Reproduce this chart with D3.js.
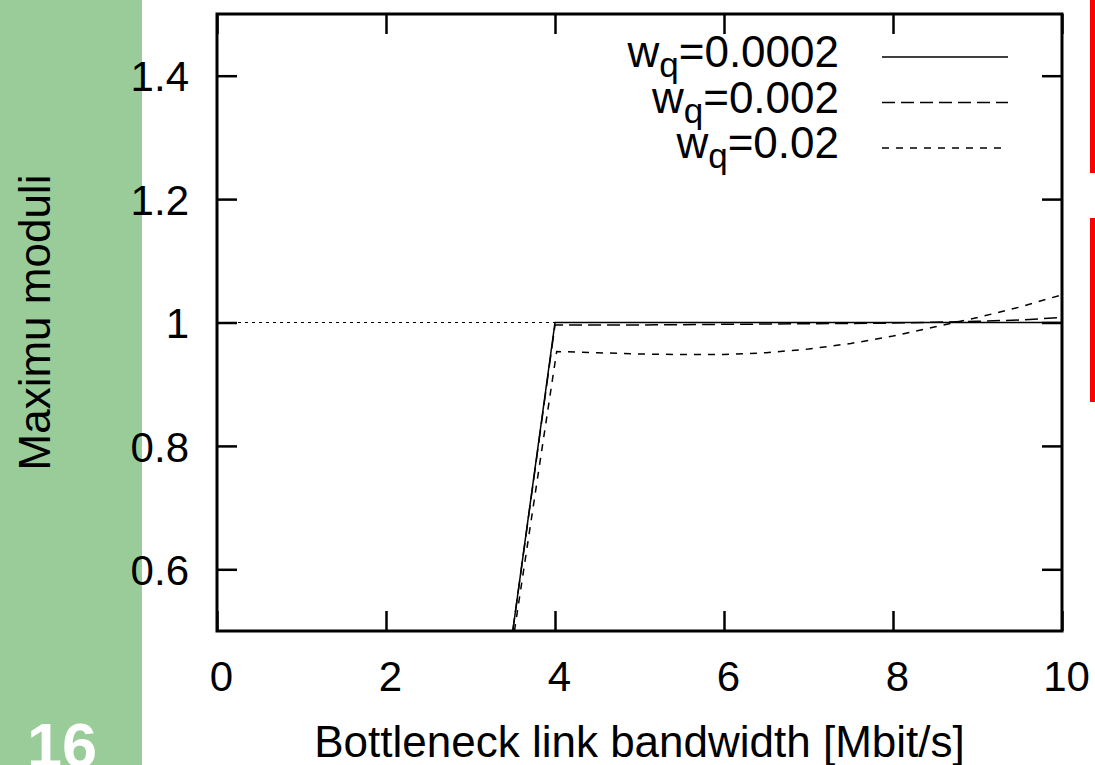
<!DOCTYPE html>
<html>
<head>
<meta charset="utf-8">
<script src="https://cdn.jsdelivr.net/npm/d3@7"></script>
<style>
  body { margin: 0; background: #fff; }
  svg { display: block; font-family: "Liberation Sans", Arial, sans-serif; }
</style>
</head>
<body>
<script>
const dimensions = {
    width: 1095,
    height: 765
}
const margin = { left: 217, top: 14, right: 1095 - 1062, bottom: 765 - 631 }

// values
const xTicks = [0, 2, 4, 6, 8, 10]
const yTicks = [0.6, 0.8, 1, 1.2, 1.4]
const wqValues = ['0.0002', '0.002', '0.02']

const bwSolid = [3.5, 4, 6, 8, 10]
const modSolid = [0.5, 1.0, 1.0, 1.0, 1.0]

const bwLong = [3.5, 4, 5, 6, 7, 8, 9, 9.5, 10]
const modLong = [0.5, 0.996, 0.996, 0.997, 0.998, 0.999, 1.002, 1.004, 1.008]

const bwShort = [3.52, 4.02, 4.5, 5, 5.5, 6, 6.5, 7, 7.5, 8, 8.5, 9, 9.5, 10]
const modShort = [0.5, 0.953, 0.951, 0.949, 0.948, 0.948, 0.951, 0.957, 0.966, 0.978, 0.993, 1.008, 1.025, 1.045]

const refBw = [0, 10]
const refMod = [1, 1]

const dashes = [null, '13,6', '7,7']

const svg = d3.select('body').append('svg')
    .attr('width', dimensions.width)
    .attr('height', dimensions.height)

// slide decoration
svg.append('rect')
    .attr('x', 0).attr('y', 0)
    .attr('width', 142).attr('height', dimensions.height)
    .attr('fill', '#99cc99')
svg.append('text')
    .attr('x', 27).attr('y', 767)
    .attr('fill', '#fff')
    .attr('font-weight', 'bold')
    .attr('font-size', 63)
    .text('16')
svg.append('rect')
    .attr('x', 1090).attr('y', 0)
    .attr('width', 5).attr('height', 173)
    .attr('fill', '#ff0000')
svg.append('rect')
    .attr('x', 1090).attr('y', 218)
    .attr('width', 5).attr('height', 184)
    .attr('fill', '#ff0000')

const innerW = dimensions.width - margin.left - margin.right
const innerH = dimensions.height - margin.top - margin.bottom

const x = d3.scaleLinear().domain([0, 10]).range([0, innerW])
const y = d3.scaleLinear().domain([0.5, 1.5]).range([innerH, 0])

const g = svg.append('g')
    .attr('transform', `translate(${margin.left},${margin.top})`)

g.append('clipPath').attr('id', 'clip')
    .append('rect').attr('width', innerW).attr('height', innerH)

function styleAxis(sel) {
    sel.select('.domain').remove()
    sel.selectAll('line').attr('stroke', '#000').attr('stroke-width', 2.5)
    sel.selectAll('text')
        .attr('font-size', 42)
        .attr('fill', '#000')
        .attr('font-family', '"Liberation Sans", Arial, sans-serif')
}

g.append('g')
    .attr('transform', `translate(0,${innerH})`)
    .call(d3.axisBottom(x).tickValues(xTicks).tickSize(-20).tickSizeOuter(0).tickPadding(30))
    .call(styleAxis)
    .selectAll('text').attr('dx', 4)

g.append('g')
    .call(d3.axisTop(x).tickValues(xTicks).tickSize(-20).tickSizeOuter(0).tickFormat(''))
    .call(styleAxis)

g.append('g')
    .call(d3.axisLeft(y).tickValues(yTicks).tickSize(-20).tickSizeOuter(0).tickPadding(28).tickFormat(d3.format('')))
    .call(styleAxis)
    .selectAll('text').attr('dy', '0.36em')

g.append('g')
    .attr('transform', `translate(${innerW},0)`)
    .call(d3.axisRight(y).tickValues(yTicks).tickSize(-20).tickSizeOuter(0).tickFormat(''))
    .call(styleAxis)

const line = d3.line()
    .x(d => x(d[0]))
    .y(d => y(d[1]))

const plot = g.append('g').attr('clip-path', 'url(#clip)')

// reference line at 1
plot.append('path')
    .datum(d3.zip(refBw, refMod))
    .attr('d', line)
    .attr('fill', 'none')
    .attr('stroke', '#000')
    .attr('stroke-width', 1.2)
    .attr('stroke-dasharray', '3,4')

const series = [
    d3.zip(bwSolid, modSolid),
    d3.zip(bwLong, modLong),
    d3.zip(bwShort, modShort)
]

plot.selectAll('.series')
    .data(series)
    .enter()
    .append('path')
    .attr('class', 'series')
    .attr('d', line)
    .attr('fill', 'none')
    .attr('stroke', '#000')
    .attr('stroke-width', 1.5)
    .attr('stroke-dasharray', (d, i) => dashes[i])

g.append('rect')
    .attr('width', innerW).attr('height', innerH)
    .attr('fill', 'none')
    .attr('stroke', '#000')
    .attr('stroke-width', 3)

// legend
const legend = svg.append('g')
const rows = legend.selectAll('g')
    .data(wqValues)
    .enter()
    .append('g')
    .attr('transform', (d, i) => `translate(0,${67 + i * 45.5})`)

const label = rows.append('text')
    .attr('x', 839)
    .attr('text-anchor', 'end')
    .attr('font-size', 44)
label.append('tspan').text('w')
label.append('tspan').attr('font-size', 35).attr('dy', 10).text('q')
label.append('tspan').attr('dy', -10).text(d => '=' + d)

rows.append('line')
    .attr('x1', 882).attr('x2', 1008)
    .attr('y1', -10).attr('y2', -10)
    .attr('stroke', '#000')
    .attr('stroke-width', 1.5)
    .attr('stroke-dasharray', (d, i) => dashes[i])

// axis titles
svg.append('text')
    .attr('x', margin.left + innerW / 2)
    .attr('y', 757)
    .attr('text-anchor', 'middle')
    .attr('font-size', 44)
    .text('Bottleneck link bandwidth [Mbit/s]')

svg.append('text')
    .attr('transform', `translate(50,${margin.top + innerH / 2}) rotate(-90)`)
    .attr('text-anchor', 'middle')
    .attr('font-size', 44)
    .text('Maximu moduli')
</script>
</body>
</html>
